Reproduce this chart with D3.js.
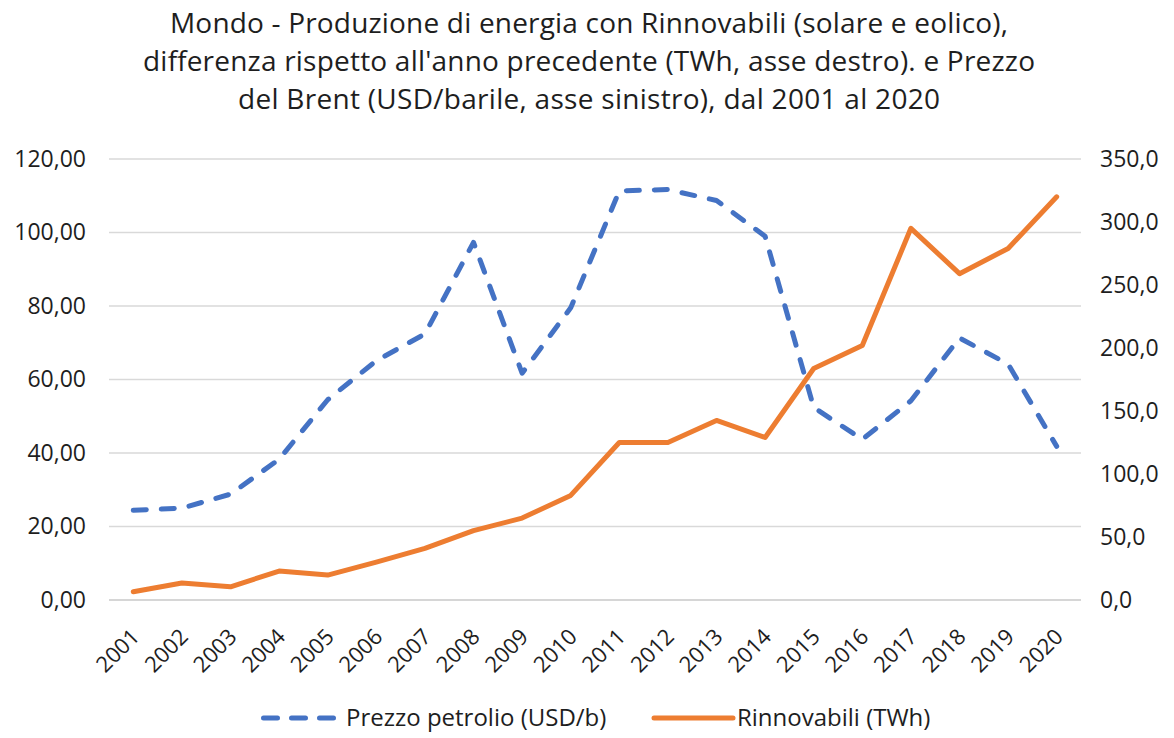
<!DOCTYPE html>
<html>
<head>
<meta charset="utf-8">
<script src="https://cdn.jsdelivr.net/npm/d3@7"></script>
<style>
  body { margin: 0; background: #fff; }
  svg text { font-family: "Open Sans", "Liberation Sans", sans-serif; fill: #1e1e1e; }
</style>
</head>
<body>
<div id="chart"></div>
<script>
var years = ["2001","2002","2003","2004","2005","2006","2007","2008","2009","2010",
             "2011","2012","2013","2014","2015","2016","2017","2018","2019","2020"];
var brent = [24.4, 25.0, 28.8, 38.3, 54.5, 65.1, 72.4, 97.3, 61.7, 79.5,
             111.3, 111.7, 108.7, 99.0, 52.4, 43.7, 54.2, 71.3, 64.2, 41.8];
var rinnovabili = [6.5, 13.5, 10.5, 23, 19.8, 30, 41, 55, 65, 83,
                   125, 125, 142.5, 129, 183.7, 202, 295, 259, 279, 320];
var leftTicks = [0, 20, 40, 60, 80, 100, 120];
var rightTicks = [0, 50, 100, 150, 200, 250, 300, 350];
var titleLines = [
    "Mondo - Produzione di energia con Rinnovabili (solare e eolico),",
    "differenza rispetto all'anno precedente (TWh, asse destro). e Prezzo",
    "del Brent (USD/barile, asse sinistro), dal 2001 al 2020"
];
var titleWidths = [838, 892, 702];

var width = 1174, height = 738;
var margin = {top: 159, right: 93, bottom: 138, left: 109};

var svg = d3.select("#chart").append("svg")
    .attr("width", width)
    .attr("height", height);

var x = d3.scalePoint()
    .domain(years)
    .range([margin.left, width - margin.right])
    .padding(0.5);

var yLeft = d3.scaleLinear()
    .domain([0, 120])
    .range([height - margin.bottom, margin.top]);

var yRight = d3.scaleLinear()
    .domain([0, 350])
    .range([height - margin.bottom, margin.top]);

var fmtLeft = function(d) { return d3.format(".2f")(d).replace(".", ","); };
var fmtRight = function(d) { return d3.format(".1f")(d).replace(".", ","); };

// title
svg.append("g").selectAll("text")
    .data(titleLines)
    .enter()
    .append("text")
    .attr("x", 589)
    .attr("y", function(d, i) { return 33 + i * 38; })
    .attr("text-anchor", "middle")
    .attr("textLength", function(d, i) { return titleWidths[i]; })
    .attr("lengthAdjust", "spacing")
    .style("font-size", "28px")
    .text(function(d) { return d; });

// gridlines
svg.append("g")
    .selectAll("line")
    .data(leftTicks)
    .enter()
    .append("line")
    .attr("x1", margin.left)
    .attr("x2", width - margin.right)
    .attr("y1", function(d) { return yLeft(d); })
    .attr("y2", function(d) { return yLeft(d); })
    .attr("stroke", function(d) { return d === 0 ? "#c8c8c8" : "#d9d9d9"; })
    .attr("stroke-width", 1.5);

// left axis
var leftAxis = svg.append("g")
    .attr("transform", "translate(" + margin.left + ",0)")
    .call(d3.axisLeft(yLeft).tickValues(leftTicks).tickFormat(fmtLeft).tickSize(0).tickPadding(23));
leftAxis.select(".domain").remove();
leftAxis.selectAll("text").style("font-size", "23px");

// right axis
var rightAxis = svg.append("g")
    .attr("transform", "translate(" + (width - margin.right) + ",0)")
    .call(d3.axisRight(yRight).tickValues(rightTicks).tickFormat(fmtRight).tickSize(0).tickPadding(19));
rightAxis.select(".domain").remove();
rightAxis.selectAll("text").style("font-size", "23px");

// x axis
var xAxis = svg.append("g")
    .attr("transform", "translate(0," + (height - margin.bottom) + ")")
    .call(d3.axisBottom(x).tickSize(0));
xAxis.select(".domain").remove();
xAxis.selectAll("text")
    .style("font-size", "22px")
    .attr("text-anchor", "end")
    .attr("dx", 0)
    .attr("dy", 0)
    .attr("transform", "translate(5,36) rotate(-45)");

// lines
var lineLeft = d3.line()
    .x(function(d, i) { return x(years[i]); })
    .y(function(d) { return yLeft(d); });

var lineRight = d3.line()
    .x(function(d, i) { return x(years[i]); })
    .y(function(d) { return yRight(d); });

svg.append("path")
    .attr("d", lineRight(rinnovabili))
    .attr("fill", "none")
    .attr("stroke", "#ED7D31")
    .attr("stroke-width", 5)
    .attr("stroke-linejoin", "round")
    .attr("stroke-linecap", "round");

svg.append("path")
    .attr("d", lineLeft(brent))
    .attr("fill", "none")
    .attr("stroke", "#4472C4")
    .attr("stroke-width", 5)
    .attr("stroke-linejoin", "round")
    .attr("stroke-linecap", "round")
    .attr("stroke-dasharray", "13,15");

// legend
var legend = svg.append("g").attr("transform", "translate(0,718)");
legend.append("line")
    .attr("x1", 263.5).attr("x2", 333.5).attr("y1", 0).attr("y2", 0)
    .attr("stroke", "#4472C4").attr("stroke-width", 5)
    .attr("stroke-linecap", "round").attr("stroke-dasharray", "14,14");
legend.append("text")
    .attr("x", 346).attr("y", 0).attr("dy", "0.35em")
    .style("font-size", "24px")
    .text("Prezzo petrolio (USD/b)");
legend.append("line")
    .attr("x1", 654).attr("x2", 733).attr("y1", 0).attr("y2", 0)
    .attr("stroke", "#ED7D31").attr("stroke-width", 5)
    .attr("stroke-linecap", "round");
legend.append("text")
    .attr("x", 737).attr("y", 0).attr("dy", "0.35em")
    .style("font-size", "24px")
    .text("Rinnovabili (TWh)");
</script>
</body>
</html>
